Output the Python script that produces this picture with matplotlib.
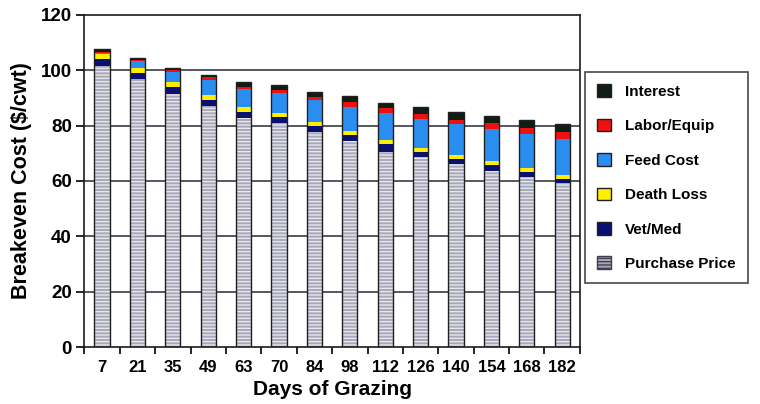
import matplotlib.pyplot as plt
import numpy as np

plt.rcParams['font.family'] = ['Liberation Sans', 'DejaVu Sans']

# Days of grazing
days = ["7", "21", "35", "49", "63", "70", "84", "98", "112", "126", "140", "154", "168", "182"]

# Cost components ($/cwt), bottom to top
purchase_price = [101.5, 96.8, 91.4, 87.1, 82.7, 80.9, 77.8, 74.6, 70.6, 68.8, 66.1, 63.7, 61.5, 59.1]
vet_med = [2.5, 2.2, 2.5, 2.2, 2.4, 2.4, 2.0, 2.1, 2.8, 1.8, 1.8, 2.1, 1.8, 1.8]
death_loss = [2.0, 1.8, 1.8, 1.8, 1.8, 1.4, 1.6, 1.5, 1.4, 1.4, 1.4, 1.4, 1.4, 1.4]
feed_cost = [0.3, 2.4, 3.8, 5.3, 6.4, 7.0, 7.8, 8.6, 9.7, 10.3, 11.2, 11.5, 12.2, 13.0]
labor_equip = [0.3, 0.5, 0.6, 1.0, 0.8, 1.2, 1.2, 1.7, 1.8, 1.9, 1.7, 2.2, 2.4, 2.4]
interest = [1.2, 0.6, 0.8, 1.0, 1.6, 1.8, 1.8, 2.2, 1.8, 2.6, 2.7, 2.6, 2.7, 3.0]

x = np.arange(len(days))
width = 0.43

fig = plt.figure(figsize=(7.6, 4.04), dpi=100)
ax = fig.add_axes([0.111, 0.141, 0.652, 0.822])

# Grid lines behind bars
for yv in [20, 40, 60, 80, 100]:
    ax.axhline(yv, color='#2a2a3a', lw=1.1, zorder=0)

# Purchase price with light horizontal hatching
ax.bar(x, purchase_price, width, color='#a8a8b8', edgecolor='#e6e6ee', lw=0,
       hatch='-----', zorder=2)

segments = [
    (vet_med, '#0a0f72', 'Vet/Med'),
    (death_loss, '#ffee00', 'Death Loss'),
    (feed_cost, '#2a8ef0', 'Feed Cost'),
    (labor_equip, '#f01010', 'Labor/Equip'),
    (interest, '#0f1d12', 'Interest'),
]
bottom = np.array(purchase_price, dtype=float)
for vals, col, lab in segments:
    ax.bar(x, vals, width, bottom=bottom, color=col, lw=0, zorder=2)
    bottom = bottom + np.array(vals)

# Dark outline around each stacked bar
ax.bar(x, bottom, width, fill=False, edgecolor='#202020', lw=1.0, zorder=3)

ax.set_xlim(-0.5, len(days) - 0.5)
ax.set_ylim(0, 120)
ax.set_yticks([0, 20, 40, 60, 80, 100, 120])
ax.tick_params(axis='y', direction='out', length=6, width=1.2, pad=3,
               labelsize=13.5)
ax.set_xticks(np.arange(len(days) + 1) - 0.5)
ax.set_xticklabels([])
ax.set_xticks(x, minor=True)
ax.set_xticklabels(days, minor=True)
ax.tick_params(axis='x', which='major', direction='out', length=5, width=1.2)
ax.tick_params(axis='x', which='minor', length=0, pad=9, labelsize=12)
for lbl in ax.get_xticklabels(minor=True) + ax.get_yticklabels():
    lbl.set_fontweight('bold')

for s in ax.spines.values():
    s.set_linewidth(1.2)
    s.set_color('#1a1a1a')

ax.set_xlabel('Days of Grazing', fontsize=15, fontweight='bold', labelpad=4)
ax.set_ylabel('Breakeven Cost ($/cwt)', fontsize=15.5, fontweight='bold', labelpad=6)

# Legend, top entry first
handles = [plt.Rectangle((0, 0), 1, 1, facecolor='#0f1d12', edgecolor='#202020'),
           plt.Rectangle((0, 0), 1, 1, facecolor='#f01010', edgecolor='#202020'),
           plt.Rectangle((0, 0), 1, 1, facecolor='#2a8ef0', edgecolor='#202020'),
           plt.Rectangle((0, 0), 1, 1, facecolor='#ffee00', edgecolor='#202020'),
           plt.Rectangle((0, 0), 1, 1, facecolor='#0a0f72', edgecolor='#202020'),
           plt.Rectangle((0, 0), 1, 1, facecolor='#a8a8b8', edgecolor='#404050',
                         hatch='-----')]
labels = ['Interest', 'Labor/Equip', 'Feed Cost', 'Death Loss', 'Vet/Med', 'Purchase Price']
leg = fig.legend(handles, labels, loc='upper left', bbox_to_anchor=(0.77, 0.822),
                 frameon=True, fancybox=False, edgecolor='#1a1a1a',
                 handlelength=0.9, handleheight=0.9, labelspacing=1.3,
                 borderpad=0.8, handletextpad=0.9, borderaxespad=0,
                 prop={'weight': 'bold', 'size': 11})
leg.get_frame().set_linewidth(1.2)

fig.savefig('out.png', dpi=100)
